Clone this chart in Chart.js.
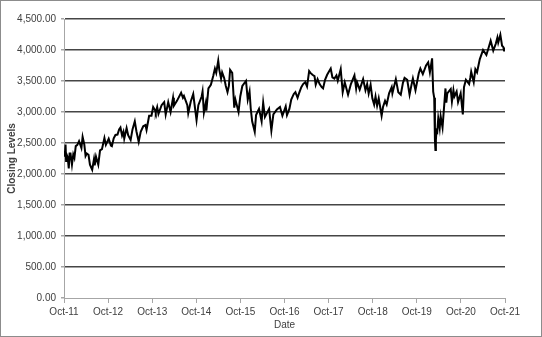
<!DOCTYPE html>
<html>
<head>
<meta charset="utf-8">
<script src="https://cdn.jsdelivr.net/npm/chart.js@4"></script>
<style>
  body { margin: 0; background: #fff; }
  #frame { width: 540px; height: 335px; border: 1px solid #8c8c8c; background: #fff; }
</style>
</head>
<body>
<div id="frame"><canvas id="levelsChart" width="540" height="335"></canvas></div>
<script>
// Closing levels
const dates = [
  '2011-10-14','2011-10-20','2011-10-27','2011-11-01','2011-11-08','2011-11-14','2011-11-23','2011-11-30','2011-12-07','2011-12-19','2011-12-30',
  '2012-01-09','2012-01-20','2012-02-03','2012-02-17','2012-03-06','2012-03-16','2012-03-30','2012-04-10','2012-04-20','2012-05-04','2012-05-16','2012-06-04','2012-06-19','2012-06-25','2012-07-05','2012-07-24','2012-08-08','2012-08-24','2012-09-14','2012-09-26','2012-10-19','2012-11-07','2012-11-15','2012-11-30','2012-12-14','2012-12-31',
  '2013-01-14','2013-01-25','2013-02-08','2013-02-19','2013-02-26','2013-03-15','2013-03-28','2013-04-18','2013-05-03','2013-05-22','2013-06-05','2013-06-24','2013-07-10','2013-07-31','2013-08-19','2013-08-28','2013-09-19','2013-10-08','2013-10-22','2013-11-07','2013-11-13','2013-11-25','2013-12-05','2013-12-31',
  '2014-01-13','2014-01-22','2014-02-04','2014-02-25','2014-03-14','2014-04-04','2014-04-11','2014-05-06','2014-06-10','2014-06-25','2014-07-03','2014-07-31','2014-08-08','2014-08-29','2014-09-19','2014-10-16','2014-10-31','2014-11-28','2014-12-05','2014-12-16','2014-12-31',
  '2015-01-06','2015-01-23','2015-02-13','2015-03-02','2015-03-16','2015-03-27','2015-04-13','2015-04-22','2015-05-06','2015-05-15','2015-06-01','2015-06-15','2015-06-29','2015-07-10','2015-07-20','2015-08-07','2015-08-24','2015-09-03','2015-09-29','2015-10-13','2015-10-30','2015-11-30','2015-12-14','2015-12-29',
  '2016-01-08','2016-01-20','2016-02-11','2016-02-22','2016-03-16','2016-04-07','2016-04-20','2016-05-04','2016-06-08','2016-06-27','2016-07-13','2016-08-12','2016-09-07','2016-09-27','2016-10-24','2016-11-04','2016-11-24','2016-12-09','2016-12-30',
  '2017-01-13','2017-01-31','2017-02-14','2017-03-01','2017-03-16','2017-04-03','2017-04-18','2017-05-05','2017-05-16','2017-06-02','2017-06-19','2017-06-29','2017-07-14','2017-07-31','2017-08-18','2017-08-29','2017-09-15','2017-10-02','2017-11-01','2017-11-15','2017-12-01','2017-12-18','2017-12-29',
  '2018-01-23','2018-02-09','2018-02-26','2018-03-23','2018-04-16','2018-05-15','2018-05-29','2018-06-06','2018-06-28','2018-07-26','2018-08-15','2018-08-29','2018-09-11','2018-09-27','2018-10-11','2018-10-26','2018-11-07','2018-11-20','2018-12-03','2018-12-27',
  '2019-01-08','2019-01-25','2019-02-08','2019-02-28','2019-03-19','2019-03-25','2019-04-23','2019-05-13','2019-06-03','2019-06-21','2019-07-04','2019-07-26','2019-08-15','2019-08-30','2019-09-12','2019-10-03','2019-10-30','2019-11-13','2019-12-03','2019-12-30',
  '2020-01-17','2020-01-31','2020-02-19','2020-02-28','2020-03-06','2020-03-12','2020-03-16','2020-03-20','2020-03-25','2020-04-01','2020-04-09','2020-04-21','2020-04-29','2020-05-14','2020-06-08','2020-06-15','2020-06-23','2020-07-21','2020-07-31','2020-08-13','2020-08-21','2020-09-09','2020-09-21','2020-10-12','2020-10-30','2020-11-09','2020-11-25','2020-12-21','2020-12-31',
  '2021-01-08','2021-01-29','2021-02-12','2021-02-26','2021-03-18','2021-04-15','2021-05-12','2021-05-31','2021-06-17','2021-07-08','2021-07-29','2021-08-12','2021-08-19','2021-09-06','2021-09-20','2021-09-30','2021-10-06','2021-10-12'
];
const closes = [
  2370,2280,2476,2210,2300,2270,2090,2330,2330,2150,2316,
  2260,2450,2470,2530,2420,2600,2477,2290,2330,2310,2150,2068,2240,2140,2280,2150,2380,2400,2580,2470,2570,2460,2450,2575,2630,2636,
  2720,2750,2620,2680,2570,2740,2625,2550,2720,2850,2690,2520,2680,2770,2790,2710,2940,2940,3080,3030,2990,3080,2970,3109,
  3140,3160,2960,3160,3000,3230,3100,3180,3310,3230,3260,3110,2980,3170,3290,2870,3110,3250,3330,2990,3140,
  3020,3380,3440,3580,3700,3630,3828,3680,3540,3640,3550,3420,3320,3420,3680,3630,3070,3200,3000,3250,3420,3500,3200,3330,
  3060,2850,2680,2950,3050,2850,3150,2920,3050,2700,2960,3040,3080,2940,3090,2950,3050,3200,3291,
  3320,3230,3310,3400,3450,3480,3410,3660,3630,3600,3580,3440,3530,3450,3400,3380,3520,3600,3700,3560,3540,3590,3504,
  3690,3320,3480,3280,3450,3590,3380,3480,3360,3530,3350,3450,3300,3440,3220,3120,3250,3100,3220,2940,
  3080,3180,3120,3300,3400,3300,3530,3320,3280,3470,3550,3520,3280,3430,3540,3350,3620,3700,3610,3750,
  3800,3640,3865,3330,3230,2545,2386,2550,2700,2680,2900,2740,2930,2750,3380,3150,3300,3370,3170,3350,3250,3330,3160,3300,2960,3400,3520,3450,3553,
  3650,3480,3690,3640,3850,4000,3920,4040,4150,3990,4100,4200,4120,4245,4070,4050,3990,4040
];
const xTickLabels = ['Oct-11','Oct-12','Oct-13','Oct-14','Oct-15','Oct-16','Oct-17','Oct-18','Oct-19','Oct-20','Oct-21'];

// date string -> months since Jan 2011 (fractional)
function toMonths(d) {
  const [y, m, day] = d.split('-').map(Number);
  return (y - 2011) * 12 + (m - 1) + (day - 1) / 30.5;
}

const startM = toMonths(dates[0]);
const points = dates.map((d, i) => ({ x: toMonths(d), y: closes[i] }));

const tickFont = { family: "'Liberation Sans', Arial, sans-serif", size: 10 };
const textColor = '#404040';
const axisColor = '#a6a6a6';

const ctx = document.getElementById('levelsChart').getContext('2d');
new Chart(ctx, {
  type: 'line',
  data: {
    datasets: [{
      data: points,
      borderColor: '#000000',
      borderWidth: 2,
      pointRadius: 0,
      tension: 0,
      fill: false
    }]
  },
  options: {
    responsive: false,
    animation: false,
    layout: { padding: { top: 18, right: 36, left: 0, bottom: 0 } },
    plugins: {
      legend: { display: false },
      tooltip: { enabled: false }
    },
    scales: {
      x: {
        type: 'linear',
        min: startM,
        max: startM + 120,
        afterBuildTicks: (scale) => {
          scale.ticks = xTickLabels.map((_, i) => ({ value: startM + 12 * i }));
        },
        afterFit: (scale) => { scale.height = 38; },
        ticks: {
          callback: (v, i) => xTickLabels[i],
          font: tickFont,
          color: textColor,
          padding: 3,
          maxRotation: 0,
          autoSkip: false
        },
        grid: { drawOnChartArea: false, drawTicks: true, tickLength: 5, tickColor: axisColor },
        border: { color: axisColor, width: 1 },
        title: {
          display: true,
          text: 'Date',
          font: tickFont,
          color: textColor,
          padding: { top: 0, bottom: 5 }
        }
      },
      y: {
        min: 0,
        max: 4500,
        afterFit: (scale) => { scale.width = 63; },
        ticks: {
          stepSize: 500,
          callback: (v) => v.toLocaleString('en-US', { minimumFractionDigits: 2, maximumFractionDigits: 2 }),
          font: tickFont,
          color: textColor,
          padding: 5
        },
        grid: {
          color: (c) => (c.tick && c.tick.value === 0 ? 'rgba(0,0,0,0)' : '#454545'),
          lineWidth: 1.5,
          tickLength: 3,
          tickColor: axisColor
        },
        border: { color: axisColor, width: 1 },
        title: {
          display: true,
          text: 'Closing Levels',
          font: { family: tickFont.family, size: 10, weight: 'bold' },
          color: textColor,
          padding: { top: 5, bottom: 0 }
        }
      }
    }
  }
});
</script>
</body>
</html>
